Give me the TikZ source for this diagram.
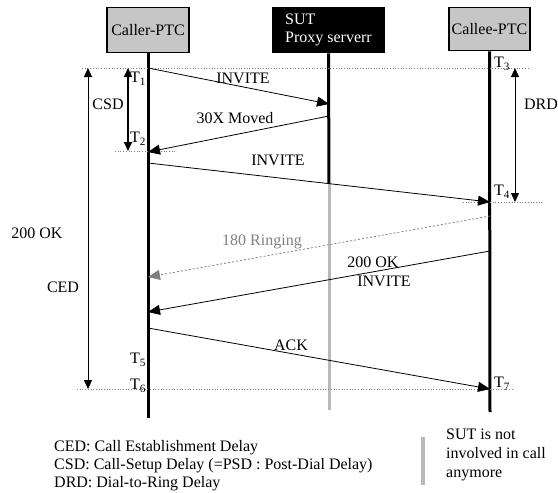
\documentclass[tikz,border=0pt]{standalone}
\usepackage{fontspec}
\setmainfont{Liberation Serif}
\usetikzlibrary{arrows,arrows.meta,positioning,calc}

\begin{document}
\begin{tikzpicture}[x=1pt,y=-1pt,font=\fontsize{16}{18}\selectfont,
  actor/.style={draw,line width=1.6pt,fill=gray!45,minimum height=45pt,inner sep=1pt},
  lifeline/.style={line width=3pt},
  msg/.style={line width=0.8pt,-{Triangle[length=12pt,width=10pt]}},
  guide/.style={dotted,gray,line width=0.7pt},
  span/.style={line width=0.8pt,{Triangle[length=9pt,width=8pt]}-{Triangle[length=9pt,width=8pt]}},
  tlabel/.style={anchor=west,inner sep=0pt}]
  \useasboundingbox (0,0) rectangle (558,493);

  % parties
  \node[actor,minimum width=82pt] (caller) at (148,30) {Caller-PTC};
  \node[actor,minimum width=111pt,fill=black,text=white,align=left] (sut) at (328.5,30) {SUT\\Proxy serverr};
  \node[actor,minimum width=81pt,minimum height=43pt] (callee) at (489.5,29) {Callee-PTC};

  % lifelines
  \coordinate (callerEnd) at (148,418);
  \coordinate (sutSplit) at (329,184);
  \coordinate (sutEnd) at (329,410);
  \coordinate (calleeEnd) at (490,412);
  \draw[lifeline] (caller.south) -- (callerEnd);
  \draw[lifeline] (sut.south) -- (sutSplit);
  \draw[lifeline,gray!55] (sutSplit) -- (sutEnd);
  \draw[lifeline] (callee.south) -- (calleeEnd);

  % time guides
  \coordinate (gTopL) at (82,68);   \coordinate (gTopR) at (530,68);
  \coordinate (gCsdL) at (115,151); \coordinate (gCsdR) at (175,151);
  \coordinate (gDrdL) at (463,202); \coordinate (gDrdR) at (542,202);
  \coordinate (gEndL) at (77,389);  \coordinate (gEndR) at (513,389);
  \draw[guide] (gTopL) -- (gTopR);
  \draw[guide] (gCsdL) -- (gCsdR);
  \draw[guide] (gDrdL) -- (gDrdR);
  \draw[guide] (gEndL) -- (gEndR);

  % messages
  \coordinate (inviteA) at (148,68);   \coordinate (inviteB) at (329,104);
  \coordinate (movedA) at (329,116);   \coordinate (movedB) at (148,152);
  \coordinate (inviteC) at (148,163);  \coordinate (inviteD) at (490,202);
  \coordinate (ringA) at (490,216);    \coordinate (ringB) at (148,277);
  \coordinate (okA) at (490,251);      \coordinate (okB) at (148,312);
  \coordinate (ackA) at (148,328);     \coordinate (ackB) at (490,389);
  \draw[msg] (inviteA) -- (inviteB);
  \draw[msg] (movedA) -- (movedB);
  \draw[msg] (inviteC) -- (inviteD);
  \draw[msg,gray,dashed,dash pattern=on 2pt off 2pt] (ringA) -- (ringB);
  \draw[msg] (okA) -- (okB);
  \draw[msg] (ackA) -- (ackB);

  \node (lInvite1) at (243,78) {INVITE};
  \node (lMoved) at (235,118) {30X Moved};
  \node (lInvite2) at (278,160) {INVITE};
  \node[text=gray] (lRing) at (262,242) {180 Ringing};
  \node (lOk) at (373,262) {200 OK};
  \node (lInvite3) at (384,281) {INVITE};
  \node (lAck) at (291,345) {ACK};

  % delays
  \coordinate (csdTop) at (128,68);  \coordinate (csdBot) at (128,151);
  \coordinate (cedTop) at (88,68);   \coordinate (cedBot) at (88,389);
  \coordinate (drdTop) at (515,68);  \coordinate (drdBot) at (515,202);
  \draw[span,line width=1.8pt] (csdTop) -- (csdBot);
  \draw[span] (cedTop) -- (cedBot);
  \draw[span] (drdTop) -- (drdBot);
  \node (lCsd) at (108,104) {CSD};
  \node (lCed) at (63,287) {CED};
  \node (lOkLeft) at (37,233) {200 OK};
  \node (lDrd) at (541,104) {DRD};

  % time stamps
  \node[tlabel] (t1) at (130,79) {T\textsubscript{1}};
  \node[tlabel] (t2) at (130,139) {T\textsubscript{2}};
  \node[tlabel] (t3) at (494,64) {T\textsubscript{3}};
  \node[tlabel] (t4) at (494,192) {T\textsubscript{4}};
  \node[tlabel] (t5) at (130,360) {T\textsubscript{5}};
  \node[tlabel] (t6) at (130,386) {T\textsubscript{6}};
  \node[tlabel] (t7) at (494,384) {T\textsubscript{7}};

  % legend
  \node[anchor=north west,align=left,inner sep=0pt] (legend) at (54,440)
    {CED: Call Establishment Delay\\CSD: Call-Setup Delay (=PSD : Post-Dial Delay)\\DRD: Dial-to-Ring Delay};
  \coordinate (barTop) at (423,437); \coordinate (barBot) at (423,485);
  \draw[line width=4pt,gray!55] (barTop) -- (barBot);
  \node[anchor=north west,align=left,inner sep=0pt,font=\fontsize{16}{19}\selectfont] (sutNote) at (446,429)
    {SUT is not\\involved in call\\anymore};
\end{tikzpicture}
\end{document}
